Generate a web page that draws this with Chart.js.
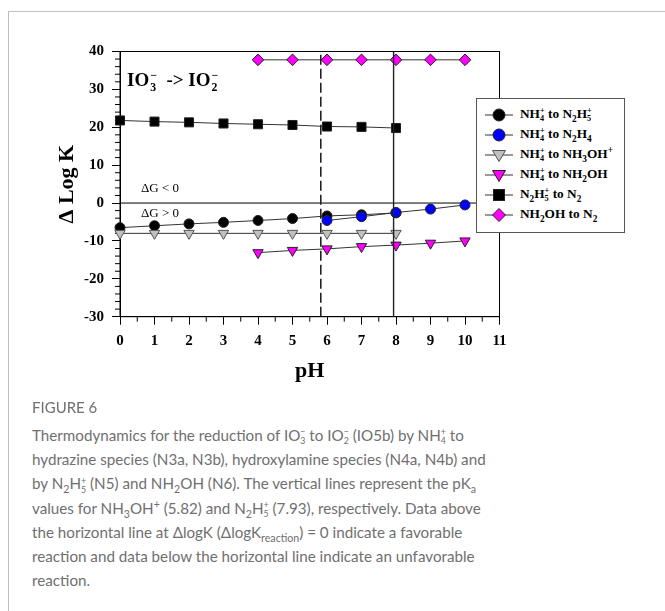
<!DOCTYPE html>
<html>
<head>
<meta charset="utf-8">
<script src="https://cdn.jsdelivr.net/npm/chart.js@4.4.1/dist/chart.umd.min.js"></script>
<style>
  html, body { margin: 0; padding: 0; background: #fff; }
  body { width: 665px; height: 611px; position: relative; overflow: hidden; }
  .panel { position: absolute; left: 8px; top: 11px; right: -2px; bottom: -2px; border-left: 1px solid #bdbdbd; border-top: 1px solid #bdbdbd; }
  #wrap { position: absolute; left: 0; top: 0; width: 665px; height: 400px; }
  .serif { font-family: "Liberation Serif", "Times New Roman", serif; color: #000; position: absolute; white-space: nowrap; }
  .note { font-size: 19px; font-weight: bold; left: 127px; top: 69px; }
  .note .st { font-size: 62%; margin-left: 1px; }
  .dg { font-size: 13px; left: 141px; }
  sub, sup { font-size: 70%; line-height: 0; }
  .st { display: inline-flex; flex-direction: column; vertical-align: middle; font-size: 62%; line-height: 1.0; }
  #legend { position: absolute; left: 476px; top: 98px; width: 149px; height: 135px; box-sizing: border-box; border: 1px solid #555; background: #fff; padding-top: 6px; }
  .row { height: 20.1px; position: relative; font-family: "Liberation Serif", serif; font-weight: bold; font-size: 13.3px; }
  .row svg { position: absolute; left: 7px; top: 3px; }
  .row span.t { position: absolute; left: 43px; top: 1px; white-space: nowrap; }
  .cap { position: absolute; left: 32px; font-family: Lato, "Open Sans", sans-serif; color: #6f6f6f; white-space: nowrap; }
  #fig { top: 398px; font-size: 15px; letter-spacing: 0px; }
  #caption { top: 423px; line-height: 24.2px; font-size: 16px; }
  #caption .st { font-size: 58%; }
</style>
</head>
<body>
<div class="panel"></div>
<div id="wrap"><canvas id="c"></canvas></div>

<div class="serif note">IO<span class="st"><span>&minus;</span><span>3</span></span>&nbsp; -&gt; IO<span class="st"><span>&minus;</span><span>2</span></span></div>
<div class="serif dg" style="top:180px">&Delta;G &lt; 0</div>
<div class="serif dg" style="top:205px">&Delta;G &gt; 0</div>

<div id="legend"></div>

<div class="cap" id="fig">FIGURE 6</div>
<div class="cap" id="caption">
  <div>Thermodynamics for the reduction of IO<span class="st"><span>&minus;</span><span>3</span></span> to IO<span class="st"><span>&minus;</span><span>2</span></span> (IO5b) by NH<span class="st"><span>+</span><span>4</span></span> to</div>
  <div id="capline2">hydrazine species (N3a, N3b), hydroxylamine species (N4a, N4b) and</div>
  <div>by N<sub>2</sub>H<span class="st"><span>+</span><span>5</span></span> (N5) and NH<sub>2</sub>OH (N6). The vertical lines represent the pK<sub>a</sub></div>
  <div>values for NH<sub>3</sub>OH<sup>+</sup> (5.82) and N<sub>2</sub>H<span class="st"><span>+</span><span>5</span></span> (7.93), respectively. Data above</div>
  <div>the horizontal line at &Delta;logK (&Delta;logK<sub>reaction</sub>) = 0 indicate a favorable</div>
  <div>reaction and data below the horizontal line indicate an unfavorable</div>
  <div>reaction.</div>
</div>

<script>
// pH values for each series
const phAll = [0, 1, 2, 3, 4, 5, 6, 7, 8];
const phBase = [6, 7, 8, 9, 10];
const phHigh = [4, 5, 6, 7, 8, 9, 10];

// delta log K
const nh4ToN2h5 = [-6.5, -6.0, -5.5, -5.1, -4.6, -4.1, -3.4, -3.1, -2.6];
const nh4ToN2h4 = [-4.6, -3.6, -2.5, -1.6, -0.5];
const nh4ToNh3oh = [-8.0, -8.0, -8.0, -8.0, -8.0, -8.0, -8.0, -8.0, -8.0];
const nh4ToNh2oh = [-13.1, -12.5, -12.1, -11.5, -11.1, -10.6, -10.0];
const n2h5ToN2 = [21.8, 21.5, 21.3, 21.0, 20.8, 20.6, 20.2, 20.1, 19.8];
const nh2ohToN2 = [37.8, 37.8, 37.8, 37.8, 37.8, 37.8, 37.8];

// pKa lines
const pkaNh3oh = 5.82;
const pkaN2h5 = 7.93;

const xTicks = [0, 1, 2, 3, 4, 5, 6, 7, 8, 9, 10, 11];
const yTicks = [-30, -20, -10, 0, 10, 20, 30, 40];

const pts = (xs, ys) => xs.map((x, i) => ({x: x, y: ys[i]}));

const series = [
  {label: 'NH<span class="st"><span>+</span><span>4</span></span> to N<sub>2</sub>H<span class="st"><span>+</span><span>5</span></span>', x: phAll, y: nh4ToN2h5, style: 'circle', fill: '#000000', r: 5, order: 6},
  {label: 'NH<span class="st"><span>+</span><span>4</span></span> to N<sub>2</sub>H<sub>4</sub>', x: phBase, y: nh4ToN2h4, style: 'circle', fill: '#0000ff', r: 5, order: 5},
  {label: 'NH<span class="st"><span>+</span><span>4</span></span> to NH<sub>3</sub>OH<sup>+</sup>', x: phAll, y: nh4ToNh3oh, style: 'triangle', fill: '#c0c0c0', r: 6, order: 4},
  {label: 'NH<span class="st"><span>+</span><span>4</span></span> to NH<sub>2</sub>OH', x: phHigh, y: nh4ToNh2oh, style: 'triangle', fill: '#ff00ff', r: 6, order: 3},
  {label: 'N<sub>2</sub>H<span class="st"><span>+</span><span>5</span></span> to N<sub>2</sub>', x: phAll, y: n2h5ToN2, style: 'rect', fill: '#000000', r: 6.4, order: 2},
  {label: 'NH<sub>2</sub>OH to N<sub>2</sub>', x: phHigh, y: nh2ohToN2, style: 'rectRot', fill: '#ff00ff', r: 5.8, order: 1}
];

let datasets = series.map(s => ({
  data: pts(s.x, s.y),
  borderColor: '#333',
  borderWidth: 1,
  pointStyle: s.style,
  pointRotation: s.style === 'triangle' ? 180 : 0,
  pointRadius: s.r,
  pointBackgroundColor: s.fill,
  pointBorderColor: s.fill === '#c0c0c0' ? '#555' : '#222',
  pointBorderWidth: 1,
  order: s.order,
  clip: false
}));

datasets.push({data: [{x: 0, y: 0}, {x: 11, y: 0}], borderColor: '#000', borderWidth: 1, pointRadius: 0, order: 8});
datasets.push({data: [{x: pkaNh3oh, y: -30}, {x: pkaNh3oh, y: 40}], borderColor: '#222', borderWidth: 1.6, borderDash: [10, 4], pointRadius: 0, order: 0});
datasets.push({data: [{x: pkaN2h5, y: -30}, {x: pkaN2h5, y: 40}], borderColor: '#222', borderWidth: 1.4, pointRadius: 0, order: 0});

// legend
let leg = document.getElementById('legend');
series.forEach(s => {
  let m = '';
  let cx = 15, cy = 7;
  let stroke = s.fill === '#c0c0c0' ? '#555' : '#222';
  if (s.style === 'circle') m = `<circle cx="${cx}" cy="${cy}" r="6" fill="${s.fill}" stroke="${stroke}"/>`;
  if (s.style === 'rect') m = `<rect x="${cx - 5.5}" y="${cy - 5.5}" width="11" height="11" fill="${s.fill}" stroke="${stroke}"/>`;
  if (s.style === 'triangle') m = `<polygon points="${cx - 6.5},${cy - 4.5} ${cx + 6.5},${cy - 4.5} ${cx},${cy + 6.5}" fill="${s.fill}" stroke="${stroke}"/>`;
  if (s.style === 'rectRot') m = `<polygon points="${cx},${cy - 6.5} ${cx + 6.5},${cy} ${cx},${cy + 6.5} ${cx - 6.5},${cy}" fill="${s.fill}" stroke="${stroke}"/>`;
  leg.innerHTML += `<div class="row"><svg width="32" height="15"><line x1="1" y1="${cy}" x2="29" y2="${cy}" stroke="#333" stroke-width="1"/>${m}</svg><span class="t">${s.label}</span></div>`;
});

const tickFont = {family: '"Liberation Serif", serif', size: 15, weight: 'bold'};

const frameAndMinor = {
  id: 'frameAndMinor',
  beforeDatasetsDraw(chart) {
    const {ctx, chartArea: a, scales} = chart;
    ctx.save();
    ctx.strokeStyle = '#000';
    ctx.lineWidth = 1;
    ctx.strokeRect(a.left, a.top, a.right - a.left, a.bottom - a.top);
    ctx.beginPath();
    for (let v = 0.5; v < 11; v += 1) {
      let px = scales.x.getPixelForValue(v);
      ctx.moveTo(px, a.bottom);
      ctx.lineTo(px, a.bottom + 5);
    }
    for (let v = -28; v < 40; v += 2) {
      if (v % 10 === 0) continue;
      let py = scales.y.getPixelForValue(v);
      ctx.moveTo(a.left - 5, py);
      ctx.lineTo(a.left, py);
    }
    ctx.stroke();
    ctx.restore();
  }
};

new Chart(document.getElementById('c'), {
  type: 'line',
  data: {datasets: datasets},
  options: {
    responsive: true,
    maintainAspectRatio: false,
    animation: false,
    layout: {padding: {left: 0, top: 51.5, right: 165.5, bottom: 0}},
    plugins: {legend: {display: false}, tooltip: {enabled: false}},
    scales: {
      x: {
        type: 'linear', min: 0, max: 11,
        afterBuildTicks: s => { s.ticks = xTicks.map(v => ({value: v})); },
        afterFit: s => { s.height = 83.3; },
        ticks: {font: tickFont, color: '#000', padding: 7},
        grid: {drawOnChartArea: false, drawTicks: true, tickLength: 8, tickColor: '#000'},
        border: {display: true, color: '#000'},
        title: {display: true, text: 'pH', color: '#000', font: {family: '"Liberation Serif", serif', size: 22, weight: 'bold'}, padding: {top: 0, bottom: 15}}
      },
      y: {
        type: 'linear', min: -30, max: 40,
        afterBuildTicks: s => { s.ticks = yTicks.map(v => ({value: v})); },
        afterFit: s => { s.width = 120; },
        ticks: {font: tickFont, color: '#000', padding: 8},
        grid: {drawOnChartArea: false, drawTicks: true, tickLength: 8, tickColor: '#000'},
        border: {display: true, color: '#000'},
        title: {display: true, text: 'Δ Log K', color: '#000', font: {family: '"Liberation Serif", serif', size: 22, weight: 'bold'}, padding: {top: 54, bottom: 0}}
      }
    }
  },
  plugins: [frameAndMinor]
});

// fit caption width to the reference line length
let l2 = document.getElementById('capline2');
let w = l2.getBoundingClientRect().width;
let cap = document.getElementById('caption');
cap.style.fontSize = (16 * 454 / w) + 'px';
</script>
</body>
</html>
